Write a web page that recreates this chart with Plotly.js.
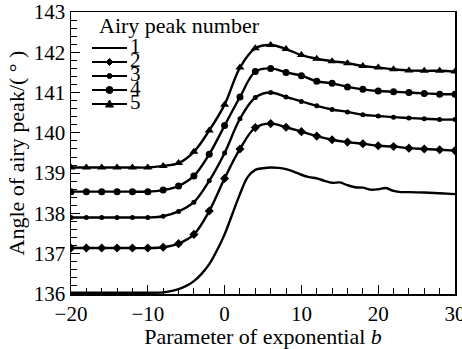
<!DOCTYPE html>
<html>
<head>
<meta charset="utf-8">
<script src="https://cdn.plot.ly/plotly-3.0.1.min.js"></script>
<style>html,body{margin:0;padding:0;background:#fff;}#chart{width:462px;height:349px;}</style>
</head>
<body>
<div id="chart"></div>
<script>
// ---- data ----
const bMarked = [-20,-18,-16,-14,-12,-10,-8,-6,-4,-2,0,2,4,6,8,10,12,14,16,18,20,22,24,26,28,30];
const peak2 = [137.14,137.14,137.14,137.14,137.14,137.14,137.16,137.25,137.48,138.06,138.87,139.6,140.13,140.23,140.14,140.03,139.92,139.83,139.77,139.73,139.68,139.66,139.62,139.6,139.58,139.56];
const peak3 = [137.9,137.9,137.9,137.9,137.9,137.9,137.93,138.05,138.28,138.81,139.5,140.35,140.88,141.0,140.89,140.78,140.67,140.58,140.52,140.45,140.42,140.39,140.37,140.35,140.33,140.33];
const peak4 = [138.54,138.54,138.54,138.54,138.54,138.54,138.58,138.68,138.93,139.47,140.18,140.89,141.52,141.6,141.5,141.42,141.28,141.23,141.14,141.08,141.04,141.02,141.0,140.98,140.96,140.96];
const peak5 = [139.14,139.14,139.14,139.14,139.14,139.14,139.18,139.25,139.53,140.06,140.7,141.62,142.1,142.18,142.08,141.93,141.84,141.78,141.73,141.66,141.62,141.58,141.55,141.54,141.54,141.52];
const b1 = [-20,-16,-12,-10,-8,-7,-6,-5,-4,-3,-2,-1,0,1,2,3,4,5,6,7,8,9,10,11,12,13,14,15,16,17,18,19,20,21,22,23,24,26,28,30];
const peak1 = [136.03,136.03,136.03,136.03,136.04,136.07,136.12,136.2,136.32,136.5,136.74,137.08,137.48,137.98,138.48,138.9,139.08,139.12,139.14,139.13,139.1,139.04,138.96,138.9,138.87,138.81,138.76,138.77,138.7,138.65,138.64,138.59,138.6,138.63,138.56,138.53,138.53,138.52,138.5,138.48];
const seriesNames = ['1','2','3','4','5'];
const legendTitle = 'Airy peak number';
const xTitle = 'Parameter of exponential <i>b</i>';
const yTitle = 'Angle of airy peak/( ° )';

// ---- styling ----
const FONT = 'Liberation Serif';
const INK = '#000';
const markerStyles = [
  null,
  {symbol:'diamond', size:7},
  {symbol:'circle', size:5},
  {symbol:'circle', size:7},
  {symbol:'triangle-up', size:8}
];
const xs = [b1, bMarked, bMarked, bMarked, bMarked];
const ys = [peak1, peak2, peak3, peak4, peak5];

const traces = ys.map((y, i) => {
  const t = {
    type:'scatter',
    x: xs[i], y: y,
    name: seriesNames[i],
    mode: i === 0 ? 'lines' : 'lines+markers',
    line: {color: INK, width: 2.4, shape:'spline', smoothing: 1},
    showlegend: false,
    hoverinfo: 'skip'
  };
  if (markerStyles[i]) t.marker = {color: INK, symbol: markerStyles[i].symbol, size: markerStyles[i].size};
  return t;
});

// plot area geometry (pixels)
const W = 462, H = 349;
const M = {l:71, r:7, t:12, b:55};
const PW = W - M.l - M.r, PH = H - M.t - M.b;
const px2x = px => (px - M.l) / PW;
const py2y = py => (H - M.b - py) / PH;

// hand-drawn legend (compact spacing as in reference)
const shapes = [];
const annotations = [];
const legX0 = 92, legX1 = 127, legMid = 109.5, legTop = 48, legStep = 14;
annotations.push({xref:'paper', yref:'paper', x: px2x(97), y: py2y(25), xanchor:'left', yanchor:'middle',
  text: legendTitle, showarrow:false, font:{family:FONT, size:22, color:INK}});
seriesNames.forEach((nm, i) => {
  const py = legTop + i * legStep;
  shapes.push({type:'line', xref:'paper', yref:'paper', x0: px2x(legX0), x1: px2x(legX1), y0: py2y(py), y1: py2y(py),
    line:{color:INK, width:2}});
  const ms = markerStyles[i];
  if (ms) {
    const r = ms.size / 2;
    const base = {xref:'paper', yref:'paper', xsizemode:'pixel', ysizemode:'pixel',
      xanchor: px2x(legMid), yanchor: py2y(py), fillcolor: INK, line:{color:INK, width:1}};
    if (ms.symbol === 'circle') {
      shapes.push(Object.assign({type:'circle', x0:-r, x1:r, y0:-r, y1:r}, base));
    } else if (ms.symbol === 'diamond') {
      shapes.push(Object.assign({type:'path', path:`M${-r},0L0,${r}L${r},0L0,${-r}Z`}, base));
    } else {
      shapes.push(Object.assign({type:'path', path:`M${-r},${-r*0.75}L${r},${-r*0.75}L0,${r}Z`}, base));
    }
  }
  annotations.push({xref:'paper', yref:'paper', x: px2x(128), y: py2y(py - 2), xanchor:'left', yanchor:'middle',
    text: nm, showarrow:false, font:{family:FONT, size:21, color:INK}});
});

const axisCommon = {
  showgrid:false, zeroline:false, showline:true, mirror:true, linecolor:INK, linewidth:1.5,
  ticks:'inside', ticklen:9, tickwidth:1.2, tickcolor:INK,
  ticklabeloverflow:'allow',
  tickfont:{family:FONT, size:21, color:INK}
};

const layout = {
  width: W, height: H,
  margin: M,
  paper_bgcolor:'#fff', plot_bgcolor:'#fff',
  showlegend:false,
  font:{family:FONT, color:INK},
  xaxis: Object.assign({}, axisCommon, {
    range:[-20,30], tick0:-20, dtick:10,
    minor:{dtick:2, ticks:'inside', ticklen:6, tickwidth:1, tickcolor:INK, showgrid:false},
    title:{text:xTitle, font:{family:FONT, size:22, color:INK}, standoff:5}
  }),
  yaxis: Object.assign({}, axisCommon, {
    range:[136,143], dtick:1,
    minor:{dtick:0.2, ticks:'inside', ticklen:6, tickwidth:1, tickcolor:INK, showgrid:false},
    title:{text:yTitle, font:{family:FONT, size:22, color:INK}, standoff:3}
  }),
  shapes: shapes,
  annotations: annotations
};

Plotly.newPlot('chart', traces, layout, {staticPlot:true, displayModeBar:false});
</script>
</body>
</html>
